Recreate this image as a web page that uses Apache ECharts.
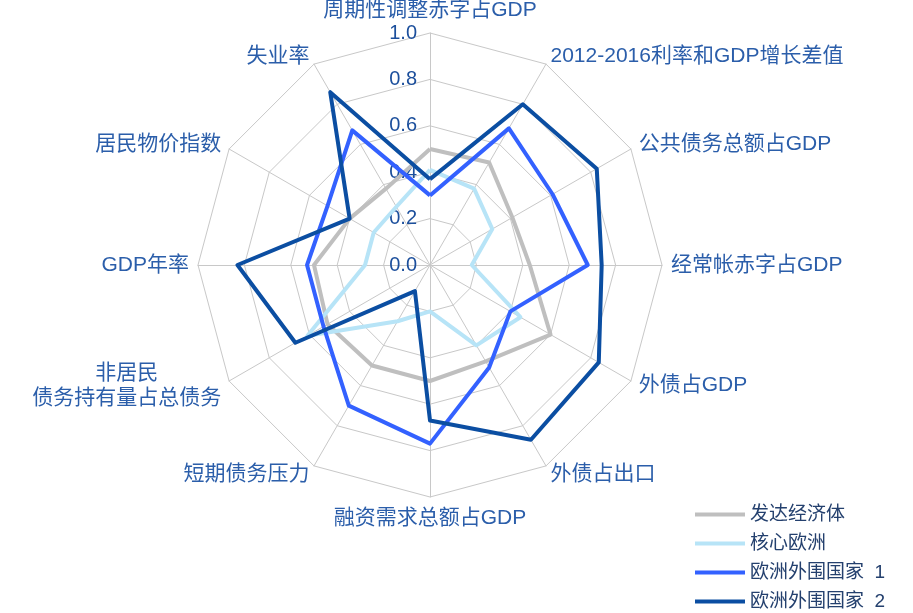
<!DOCTYPE html>
<html>
<head>
<meta charset="utf-8">
<script src="https://cdn.jsdelivr.net/npm/echarts@6/dist/echarts.min.js"></script>
<style>
  html, body { margin: 0; padding: 0; background: #fff; }
  #main { width: 913px; height: 613px; }
</style>
</head>
<body>
<div id="main"></div>
<script>
// indicators, clockwise from the top
var indicators = ['周期性调整赤字占GDP', '2012-2016利率和GDP增长差值', '公共债务总额占GDP', '经常帐赤字占GDP',
  '外债占GDP', '外债占出口', '融资需求总额占GDP', '短期债务压力', '非居民\n债务持有量占总债务',
  'GDP年率', '居民物价指数', '失业率'];
var seriesNames = ['发达经济体', '核心欧洲', '欧洲外围国家  1', '欧洲外围国家  2'];
var developed = [0.50, 0.51, 0.41, 0.43, 0.60, 0.48, 0.50, 0.50, 0.51, 0.50, 0.40, 0.38];
var coreEurope = [0.41, 0.38, 0.31, 0.18, 0.45, 0.40, 0.20, 0.28, 0.61, 0.28, 0.28, 0.29];
var periphery1 = [0.30, 0.68, 0.61, 0.68, 0.40, 0.51, 0.77, 0.70, 0.53, 0.53, 0.51, 0.67];
var periphery2 = [0.37, 0.80, 0.83, 0.74, 0.84, 0.87, 0.67, 0.13, 0.67, 0.83, 0.40, 0.86];
var colors = ['#BFBFBF', '#B7E4F7', '#3361FF', '#0B4EA2'];

var font = '"Liberation Sans", "Noto Sans CJK SC", sans-serif';

// echarts lays radar axes out counter-clockwise, so reorder
var order = [0];
for (var i = indicators.length - 1; i > 0; i--) order.push(i);
function reorder(arr) { return order.map(function (k) { return arr[k]; }); }

// center the shorter line of a two-line name over the longer one
function padName(name) {
  var lines = name.split('\n');
  if (lines.length < 2) return name;
  var maxLen = Math.max.apply(null, lines.map(function (l) { return l.length; }));
  return lines.map(function (l) {
    var pad = Math.floor((maxLen - l.length) / 2);
    return l + new Array(pad + 1).join('\u3000');
  }).join('\n');
}

var chart = echarts.init(document.getElementById('main'));
var allData = [developed, coreEurope, periphery1, periphery2];

var option = {
  backgroundColor: '#fff',
  animation: false,
  color: colors,
  legend: {
    orient: 'vertical',
    left: 695,
    top: 505,
    padding: 0,
    icon: 'rect',
    itemWidth: 50,
    itemHeight: 4,
    itemGap: 10,
    textStyle: { fontSize: 19, color: '#24406E', fontFamily: font },
    data: seriesNames
  },
  radar: {
    center: [430, 265],
    radius: 232,
    startAngle: 90,
    shape: 'polygon',
    splitNumber: 5,
    nameGap: 9,
    axisName: {
      color: '#2B5EAA', fontSize: 21, fontFamily: font, lineHeight: 25,
      formatter: function (v) { return padName(v); }
    },
    splitLine: { lineStyle: { color: '#C8C8C8', width: 1 } },
    splitArea: { show: false },
    axisLine: { lineStyle: { color: '#C8C8C8', width: 1 } },
    axisLabel: { show: false },
    indicator: reorder(indicators).map(function (n, idx) {
      var ind = { name: n, min: 0, max: 1 };
      if (idx === 0) {
        ind.axisLabel = {
          show: true, fontSize: 20, color: '#1C4F9C', fontFamily: font, margin: 13,
          formatter: function (v) { return v.toFixed(1); }
        };
      }
      return ind;
    })
  },
  series: [{
    type: 'radar',
    symbol: 'none',
    data: allData.map(function (arr, k) {
      return {
        name: seriesNames[k],
        value: reorder(arr),
        lineStyle: { color: colors[k], width: 4 },
        itemStyle: { color: colors[k] }
      };
    })
  }]
};
chart.setOption(option);
</script>
</body>
</html>
